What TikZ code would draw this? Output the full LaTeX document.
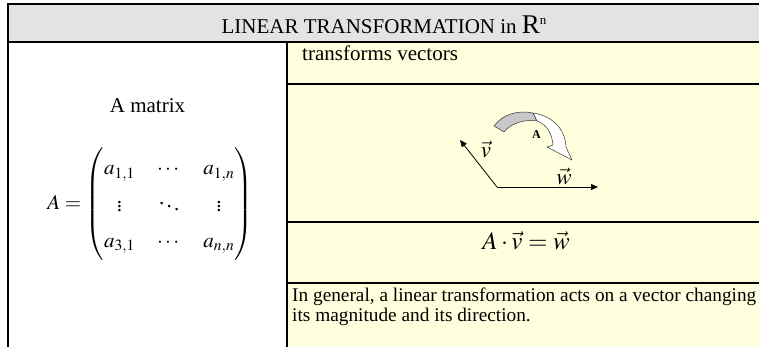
\documentclass[tikz,border=0pt]{standalone}
\usepackage{amsmath}
\usepackage{mathptmx}
\usepackage{fontspec}
\setmainfont{Liberation Serif}
\usetikzlibrary{arrows.meta}
\definecolor{headgray}{RGB}{227,227,227}
\definecolor{cellyellow}{RGB}{255,255,221}
\definecolor{ribbongray}{RGB}{200,200,200}
\newcommand{\cellfont}{\fontsize{21}{25}\selectfont}

\begin{document}
\begin{tikzpicture}[x=1pt, y=-1pt,
    rule/.style={line width=2pt},
    vec/.style={-{Triangle[length=7pt,width=6pt]}, line width=0.8pt},
    ribbon/.style={draw=black!80, line width=0.5pt, line join=round}]
    \useasboundingbox (0,0) rectangle (759,347);
    % cell fills first so rules sit on top
    \fill[headgray] (8,4) rectangle (759,42);
    \fill[cellyellow] (287,42) rectangle (759,347);
    % rules
    \draw[rule] (8,347) -- (8,4) -- (759,4);
    \draw[rule] (8,42) -- (759,42);
    \draw[rule] (287,42) -- (287,347);
    \foreach \y in {84,222,283} {
        \draw[rule] (287,\y) -- (759,\y);
    }
    % header
    \node[anchor=base, inner sep=0] (title) at (384,34)
        {\cellfont LINEAR TRANSFORMATION in {\fontsize{27}{30}\selectfont R}\raisebox{9pt}{\fontsize{13}{15}\selectfont n}};
    % left column
    \node[anchor=base, inner sep=0] (matname) at (147.5,113) {\cellfont A matrix};
    \node[inner sep=0] (mat) at (150,204) {\cellfont
        $\renewcommand{\arraystretch}{1.45}\setlength{\arraycolsep}{11pt}
        A=\begin{pmatrix} a_{1,1} & \cdots & a_{1,n}\\ \vdots & \ddots & \vdots\\ a_{3,1} & \cdots & a_{n,n} \end{pmatrix}$};
    % right column
    \node[anchor=base west, inner sep=0] (lead) at (302,61) {\cellfont transforms vectors};
    % vectors
    \coordinate (o) at (497,187);
    \coordinate (vend) at (460,140);
    \coordinate (wend) at (598,187);
    \draw[vec] (o) -- (vend);
    \draw[vec] (o) -- (wend);
    \node[anchor=base, inner sep=0] (vlab) at (486,158) {\fontsize{23}{27}\selectfont $\vec{v}$};
    \node[anchor=base, inner sep=0] (wlab) at (564,185) {\fontsize{23}{27}\selectfont $\vec{w}$};
    % curved block arrow
    \filldraw[ribbon, fill=ribbongray] (494,126) .. controls (503,114) and (518,110) .. (533,113)
        -- (537,121) .. controls (525,119) and (511,123) .. (504,132) -- cycle;
    \filldraw[ribbon, fill=white] (533,113) .. controls (552,116) and (565,128) .. (566,147)
        -- (572,160) -- (547,147) -- (553,145) .. controls (552,133) and (546,124) .. (537,121) -- cycle;
    \node[anchor=base, inner sep=0] (alab) at (536.5,138.5) {\fontsize{12}{14}\selectfont\bfseries A};
    % equation
    \node[anchor=base, inner sep=0] (eq) at (526,249) {\fontsize{25}{29}\selectfont $A\cdot\vec{v}=\vec{w}$};
    % remark
    \node[anchor=base west, inner sep=0] (note) at (292,301)
        {\parbox[t]{480pt}{\fontsize{19.3}{20}\selectfont In general, a linear transformation acts on a vector changing\\
        its magnitude and its direction.}};
\end{tikzpicture}
\end{document}
